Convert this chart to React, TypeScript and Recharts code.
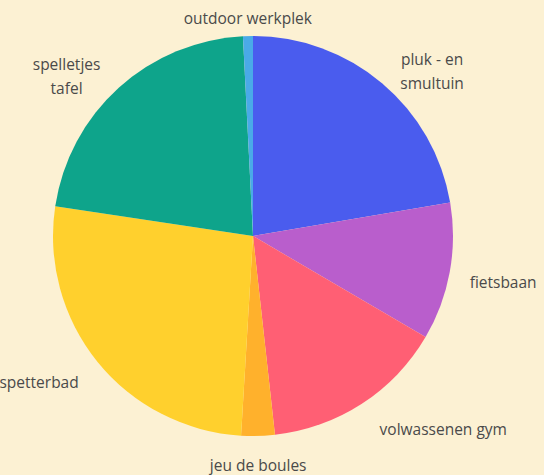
import { Cell, Pie, PieChart } from "recharts";

const categories = [
  "pluk - en\nsmultuin",
  "fietsbaan",
  "volwassenen gym",
  "jeu de boules",
  "spetterbad",
  "spelletjes\ntafel",
  "outdoor werkplek",
];
const shares = [22.3, 11.1, 14.8, 2.7, 26.4, 21.8, 0.8];
const colors = ["#4a5cee", "#b95ecc", "#ff5f74", "#ffb12c", "#ffd02d", "#0ea48b", "#4aaae8"];

const data = categories.map((name, i) => ({ name, value: shares[i] }));

const RAD = Math.PI / 180;
const FONT_SIZE = 15.5;
const FONT = `${FONT_SIZE}px "Open Sans"`;

let ctx: CanvasRenderingContext2D | null = null;
function textWidth(s: string) {
  if (!ctx) ctx = document.createElement("canvas").getContext("2d");
  if (!ctx) return s.length * 8;
  ctx.font = FONT;
  return ctx.measureText(s).width;
}

// labels sit just outside the rim, pushed sideways by their own width
function SliceLabel(props: any) {
  const { cx, cy, midAngle, outerRadius, name } = props;
  const r = outerRadius + 5;
  const sin = Math.cos(-midAngle * RAD); // horizontal component
  const cos = -Math.sin(-midAngle * RAD); // upward component
  const px = cx + r * sin;
  const py = cy - r * cos;
  const lines = String(name).split("\n");
  const w = Math.max(...lines.map(textWidth));
  const f = Math.sign(sin) * Math.max(0, Math.min(1, (Math.abs(sin) - 0.1) * 5));
  const bx = px + f * (w / 2 + 15);
  const by = py + 5.5 - cos * 18.5;
  const lh = 24;
  const top = by - ((lines.length - 1) * lh) / 2;
  return (
    <text
      x={bx}
      y={top}
      textAnchor="middle"
      dominantBaseline="central"
      fill="#4a4a4a"
      fontSize={FONT_SIZE}
      fontFamily="Open Sans"
    >
      {lines.map((l, i) => (
        <tspan key={i} x={bx} y={top + i * lh}>
          {l}
        </tspan>
      ))}
    </text>
  );
}

export default function App() {
  document.body.style.margin = "0";
  return (
    <div style={{ width: 544, height: 475, background: "#fcf1d3" }}>
      <PieChart width={544} height={475} margin={{ top: 0, right: 0, bottom: 0, left: 0 }}>
        <Pie
          data={data}
          dataKey="value"
          nameKey="name"
          cx={253}
          cy={236}
          outerRadius={200}
          startAngle={90}
          endAngle={-270}
          stroke="none"
          labelLine={false}
          label={SliceLabel}
          isAnimationActive={false}
        >
          {data.map((d, i) => (
            <Cell key={d.name} fill={colors[i]} />
          ))}
        </Pie>
      </PieChart>
    </div>
  );
}
